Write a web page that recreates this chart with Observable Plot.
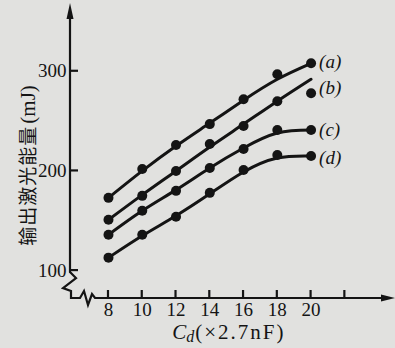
<!DOCTYPE html>
<html><head><meta charset="utf-8">
<script src="https://cdn.jsdelivr.net/npm/d3@7"></script>
<script src="https://cdn.jsdelivr.net/npm/@observablehq/plot@0.6"></script>
<style>
html,body{margin:0;padding:0;background:#e1e1df;}
#chart{width:395px;height:348px;}
#chart svg text{font-family:'Liberation Serif','DejaVu Serif',serif;}
</style></head><body><div id="chart"></div>
<script>
// x values: C_d (×2.7nF)
const cd = [8, 10, 12, 14, 16, 18, 20];
const seriesNames = ["a", "b", "c", "d"];
const seriesLabels = ["(a)", "(b)", "(c)", "(d)"];
// measured points (mJ)
const pointsA = [173, 202, 226, 247, 272, 297, 308];
const pointsB = [151, 175, 200, 227, 245, 270, 278];
const pointsC = [136, 160, 180, 203, 222, 241, 241];
const pointsD = [113, 136, 154, 178, 201, 216, 215];
// fitted curves (mJ)
const fitA = [173, 200, 225, 248, 271, 292, 308];
const fitB = [151, 176, 200, 224, 247, 270, 292];
const fitC = [136, 160, 181, 203, 223, 238, 241];
const fitD = [113, 135, 155, 177, 199, 213, 215];
// label anchor values
const labelY = [309, 283, 241, 213];
// ticks
const xTicks = [8, 10, 12, 14, 16, 18, 20, 22];
const xTickLabels = [8, 10, 12, 14, 16, 18, 20];
const yTicks = [100, 200, 300];
const xDomain = [5.75, 25];
const yDomain = [72, 366];
const yTitle = "输出激光能量";
const yUnit = "(mJ)";
const xTitleMain = "C";
const xTitleSub = "d";
const xTitleUnit = "(×2.7nF)";

const pts = [pointsA, pointsB, pointsC, pointsD];
const fits = [fitA, fitB, fitC, fitD];
const pointRows = [], fitRows = [];
seriesNames.forEach((s, i) => {
  cd.forEach((x, j) => {
    pointRows.push({series: s, x, y: pts[i][j]});
    fitRows.push({series: s, x, y: fits[i][j]});
  });
});
const labelRows = seriesNames.map((s, i) => ({series: s, x: cd[cd.length - 1], y: labelY[i], text: seriesLabels[i]}));

const ink = "#141414";

function axesMark(index, scales, values, dimensions) {
  const x = scales.x, y = scales.y;
  const x0 = x(xDomain[0]), x1 = x(xDomain[1]);
  const y0 = y(yDomain[0]), y1 = y(yDomain[1]);
  const g = d3.create("svg:g").attr("fill", "none").attr("stroke", ink).attr("stroke-width", 2.2).attr("stroke-linejoin", "miter");
  const yb = y(98);
  const p = d3.path();
  p.moveTo(x0, y1 + 10);
  p.lineTo(x0, yb);
  p.lineTo(x0 + 6, yb + 6);
  p.lineTo(x0 - 7, yb + 16);
  p.lineTo(x0 + 1, yb + 19);
  p.lineTo(x0 + 1, y0);
  p.lineTo(x0 + 10, y0);
  p.lineTo(x0 + 14, y0 - 7);
  p.lineTo(x0 + 18, y0 + 7);
  p.lineTo(x0 + 22, y0 - 4);
  p.lineTo(x0 + 25, y0);
  p.lineTo(x1 - 10, y0);
  g.append("path").attr("d", p.toString());
  // arrow heads
  g.append("path").attr("fill", ink).attr("stroke", "none")
    .attr("d", `M${x0},${y1 - 2}L${x0 - 3.5},${y1 + 14}L${x0 + 3.5},${y1 + 14}Z`);
  g.append("path").attr("fill", ink).attr("stroke", "none")
    .attr("d", `M${x1},${y0}L${x1 - 14},${y0 - 3.5}L${x1 - 14},${y0 + 3.5}Z`);
  // ticks
  xTicks.forEach(t => {
    g.append("line").attr("x1", x(t)).attr("x2", x(t)).attr("y1", y0).attr("y2", y0 - 8);
  });
  yTicks.forEach(t => {
    g.append("line").attr("x1", x0).attr("x2", x0 + 8).attr("y1", y(t)).attr("y2", y(t));
  });
  // x title
  const tx = g.append("text").attr("fill", ink).attr("stroke", "none")
    .attr("x", x(11.8)).attr("y", y0 + 41).attr("text-anchor", "start")
    .attr("font-size", 21);
  tx.append("tspan").attr("font-style", "italic").text(xTitleMain);
  tx.append("tspan").attr("font-style", "italic").attr("font-size", 16).attr("dy", 3).text(xTitleSub);
  tx.append("tspan").attr("dy", -3).attr("letter-spacing", 2).attr("dx", 1).text(xTitleUnit);
  // y title
  const ty = g.append("text").attr("fill", ink).attr("stroke", "none")
    .attr("transform", `translate(${x0 - 35},${y(205)}) rotate(-90)`)
    .attr("text-anchor", "middle")
    .attr("font-size", 19);
  ty.append("tspan").attr("style", "font-family:'Noto Sans CJK SC',sans-serif").attr("letter-spacing", 1).text(yTitle);
  ty.append("tspan").attr("font-size", 21).attr("dx", 2).text(yUnit);
  return g.node();
}

const chart = Plot.plot({
  width: 395,
  height: 348,
  marginLeft: 70,
  marginRight: 0,
  marginTop: 5,
  marginBottom: 50,
  style: {background: "#e1e1df", color: ink, fontFamily: "'Liberation Serif', serif", fontSize: "19px", overflow: "visible"},
  x: {domain: xDomain, ticks: xTickLabels, tickSize: 0, tickPadding: 4, label: null},
  y: {domain: yDomain, ticks: yTicks, tickSize: 0, tickPadding: 4, label: null},
  marks: [
    axesMark,
    Plot.line(fitRows, {x: "x", y: "y", z: "series", stroke: ink, strokeWidth: 3, curve: "natural"}),
    Plot.dot(pointRows, {x: "x", y: "y", r: 5, fill: ink, stroke: "none"}),
    Plot.text(labelRows, {x: "x", y: "y", text: "text", dx: 8, textAnchor: "start", fontStyle: "italic", fontSize: 19, fill: ink})
  ]
});
document.getElementById("chart").appendChild(chart);
</script></body></html>
